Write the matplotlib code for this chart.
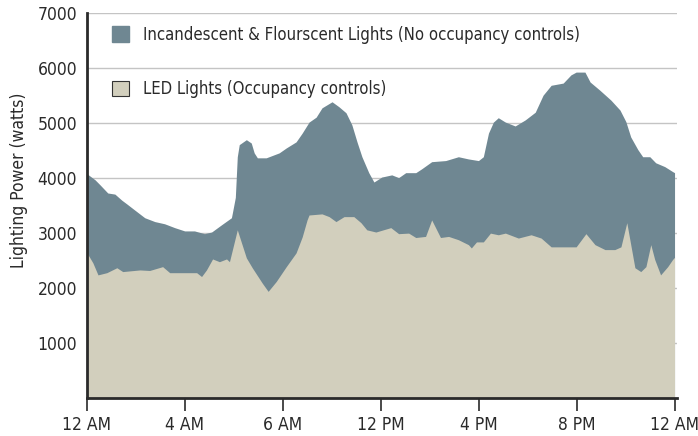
import matplotlib.pyplot as plt
from matplotlib.patches import Patch

# Uhrzeit in Stunden (0-24) und Leistung in Watt
old_hours = [0.00, 0.33, 0.53, 0.85, 1.14, 1.42, 1.63, 1.95, 2.36, 2.77, 3.17, 3.58,
             3.99, 4.39, 4.80, 5.09, 5.49, 5.90, 5.94, 6.06, 6.14, 6.22, 6.51, 6.71,
             6.83, 6.96, 7.32, 7.85, 8.14, 8.54, 8.79, 9.07, 9.36, 9.60, 10.01, 10.29,
             10.58, 10.82, 11.03, 11.23, 11.51, 11.72, 12.04, 12.45, 12.73, 13.02, 13.43,
             13.67, 14.08, 14.65, 15.17, 15.58, 15.99, 16.19, 16.40, 16.60, 16.80, 17.09,
             17.49, 17.90, 18.31, 18.63, 18.96, 19.45, 19.77, 19.98, 20.34, 20.55, 20.95,
             21.40, 21.77, 22.01, 22.21, 22.50, 22.70, 22.99, 23.23, 23.60, 23.92, 24.00]
old_watts = [4080, 3970, 3880, 3730, 3710, 3600, 3530, 3420, 3280, 3210, 3170, 3100,
             3040, 3040, 2990, 3020, 3150, 3280, 3370, 3650, 4390, 4610, 4700, 4640,
             4460, 4370, 4370, 4460, 4550, 4660, 4820, 5020, 5110, 5280, 5390, 5300,
             5190, 4970, 4660, 4390, 4100, 3930, 4020, 4060, 4010, 4100, 4100,
             4170, 4300, 4320, 4390, 4350, 4320, 4390, 4820, 5020, 5100, 5020,
             4950, 5060, 5200, 5510, 5690, 5730, 5880, 5930, 5930, 5750, 5600,
             5420, 5240, 5030, 4750, 4520, 4390, 4390, 4280, 4210, 4120, 4100]

led_hours = [0.00, 0.24, 0.45, 0.81, 1.22, 1.46, 2.16, 2.56, 3.09, 3.38, 3.91, 4.48,
             4.68, 4.88, 5.13, 5.41, 5.70, 5.82, 6.14, 6.51, 6.75, 7.16, 7.40, 7.73,
             8.14, 8.54, 8.79, 8.99, 9.07, 9.60, 9.89, 10.17, 10.50, 10.90, 11.19, 11.43,
             11.80, 12.41, 12.73, 13.14, 13.43, 13.83, 14.08, 14.44, 14.77, 15.17, 15.58,
             15.70, 15.91, 16.19, 16.48, 16.80, 17.09, 17.62, 18.14, 18.55, 18.96, 19.53,
             19.98, 20.38, 20.75, 21.16, 21.56, 21.81, 22.05, 22.38, 22.62, 22.83, 23.03,
             23.19, 23.43, 23.72, 23.92, 24.00]
led_watts = [2640, 2460, 2240, 2280, 2370, 2300, 2330, 2320, 2390, 2280, 2280, 2280,
             2210, 2330, 2530, 2480, 2530, 2480, 3060, 2550, 2370, 2090, 1940, 2120,
             2390, 2640, 2930, 3240, 3330, 3350, 3300, 3210, 3300, 3300, 3190, 3060,
             3020, 3100, 2990, 3000, 2920, 2940, 3240, 2920, 2940, 2880, 2790,
             2730, 2840, 2840, 3000, 2970, 3000, 2910, 2970, 2910, 2750, 2750,
             2750, 2990, 2790, 2700, 2700, 2750, 3190, 2370, 2300, 2390, 2790,
             2520, 2240, 2390, 2520, 2560]

tick_hours = [0, 4, 8, 12, 16, 20, 24]
tick_labels = ['12 AM', '4 AM', '6 AM', '12 PM', '4 PM', '8 PM', '12 AM']
y_ticks = [1000, 2000, 3000, 4000, 5000, 6000, 7000]

old_label = 'Incandescent & Flourscent Lights (No occupancy controls)'
led_label = 'LED Lights (Occupancy controls)'

GRAY = '#6f8792'
BEIGE = '#d2cfbd'
DARK = '#2a2a2a'

plt.rcParams['font.family'] = ['DejaVu Sans']
plt.rcParams['font.stretch'] = 'condensed'


def main():
    fig = plt.figure(figsize=(6.98, 4.36), dpi=100)
    ax = fig.add_axes([0.1246, 0.0872, 0.8453, 0.8823])

    ax.fill_between(old_hours, 0, old_watts, color=GRAY, lw=0, zorder=2)
    ax.fill_between(led_hours, 0, led_watts, color=BEIGE, lw=0, zorder=3)

    ax.set_xlim(0, 24.1)
    ax.set_ylim(0, 7000)
    ax.set_yticks(y_ticks)
    ax.set_xticks(tick_hours)
    ax.set_xticklabels(tick_labels)
    ax.yaxis.grid(True, color='#c4c4c4', lw=1.0)
    ax.set_axisbelow(True)

    for side in ['top', 'right']:
        ax.spines[side].set_visible(False)
    for side in ['left', 'bottom']:
        ax.spines[side].set_color(DARK)
        ax.spines[side].set_linewidth(2.0)
        ax.spines[side].set_zorder(5)

    ax.tick_params(axis='y', length=0, pad=7, labelsize=12.5, labelcolor=DARK)
    ax.tick_params(axis='x', direction='out', length=9, width=1.2, color=DARK,
                   pad=4, labelsize=12.5, labelcolor=DARK)
    ax.set_ylabel('Lighting Power (watts)', fontsize=12.5, color=DARK)
    ax.yaxis.set_label_coords(-0.10, 0.565)

    handles = [Patch(facecolor=GRAY, edgecolor=GRAY, label=old_label),
               Patch(facecolor=BEIGE, edgecolor='#333333', lw=0.8, label=led_label)]
    ax.legend(handles=handles, loc='upper left', bbox_to_anchor=(0.042, 0.968),
              frameon=False, fontsize=12, handlelength=1.05, handleheight=1.05,
              labelspacing=2.2, handletextpad=0.8, borderpad=0, borderaxespad=0,
              labelcolor=DARK)

    fig.savefig('out.png', dpi=100)


if __name__ == '__main__':
    main()
